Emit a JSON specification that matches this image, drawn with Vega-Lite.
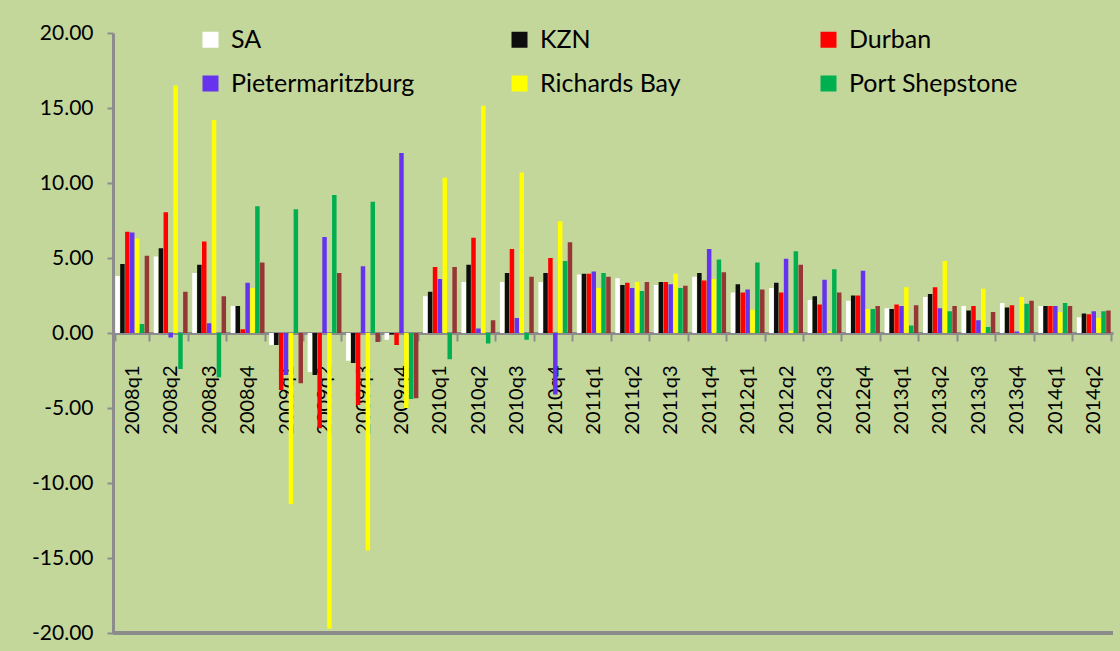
{
  "$schema": "https://vega.github.io/schema/vega-lite/v6.json",
  "width": 1000,
  "height": 600,
  "autosize": {"type": "none"},
  "padding": {"left": 113, "top": 33, "right": 7, "bottom": 18},
  "background": "#C4D79B",
  "config": {"view": {"stroke": null}, "font": "Lato"},
  "data": {"values": [
    {"q":"2008q1","s":"SA","v":3.8},{"q":"2008q1","s":"KZN","v":4.6},{"q":"2008q1","s":"Durban","v":6.75},{"q":"2008q1","s":"Pietermaritzburg","v":6.7},{"q":"2008q1","s":"Richards Bay","v":6.3},{"q":"2008q1","s":"Port Shepstone","v":0.6},{"q":"2008q1","s":"Other","v":5.15},
    {"q":"2008q2","s":"SA","v":5.1},{"q":"2008q2","s":"KZN","v":5.65},{"q":"2008q2","s":"Durban","v":8.05},{"q":"2008q2","s":"Pietermaritzburg","v":-0.3},{"q":"2008q2","s":"Richards Bay","v":16.5},{"q":"2008q2","s":"Port Shepstone","v":-2.4},{"q":"2008q2","s":"Other","v":2.75},
    {"q":"2008q3","s":"SA","v":4.0},{"q":"2008q3","s":"KZN","v":4.55},{"q":"2008q3","s":"Durban","v":6.1},{"q":"2008q3","s":"Pietermaritzburg","v":0.65},{"q":"2008q3","s":"Richards Bay","v":14.2},{"q":"2008q3","s":"Port Shepstone","v":-2.95},{"q":"2008q3","s":"Other","v":2.45},
    {"q":"2008q4","s":"SA","v":1.8},{"q":"2008q4","s":"KZN","v":1.8},{"q":"2008q4","s":"Durban","v":0.25},{"q":"2008q4","s":"Pietermaritzburg","v":3.35},{"q":"2008q4","s":"Richards Bay","v":3.0},{"q":"2008q4","s":"Port Shepstone","v":8.45},{"q":"2008q4","s":"Other","v":4.7},
    {"q":"2009q1","s":"SA","v":-0.8},{"q":"2009q1","s":"KZN","v":-0.8},{"q":"2009q1","s":"Durban","v":-3.8},{"q":"2009q1","s":"Pietermaritzburg","v":-2.8},{"q":"2009q1","s":"Richards Bay","v":-11.4},{"q":"2009q1","s":"Port Shepstone","v":8.25},{"q":"2009q1","s":"Other","v":-3.35},
    {"q":"2009q2","s":"SA","v":-2.6},{"q":"2009q2","s":"KZN","v":-2.8},{"q":"2009q2","s":"Durban","v":-6.35},{"q":"2009q2","s":"Pietermaritzburg","v":6.4},{"q":"2009q2","s":"Richards Bay","v":-19.7},{"q":"2009q2","s":"Port Shepstone","v":9.2},{"q":"2009q2","s":"Other","v":4.0},
    {"q":"2009q3","s":"SA","v":-1.85},{"q":"2009q3","s":"KZN","v":-2.0},{"q":"2009q3","s":"Durban","v":-4.8},{"q":"2009q3","s":"Pietermaritzburg","v":4.45},{"q":"2009q3","s":"Richards Bay","v":-14.5},{"q":"2009q3","s":"Port Shepstone","v":8.75},{"q":"2009q3","s":"Other","v":-0.6},
    {"q":"2009q4","s":"SA","v":-0.45},{"q":"2009q4","s":"KZN","v":-0.1},{"q":"2009q4","s":"Durban","v":-0.8},{"q":"2009q4","s":"Pietermaritzburg","v":12.0},{"q":"2009q4","s":"Richards Bay","v":-5.0},{"q":"2009q4","s":"Port Shepstone","v":-4.4},{"q":"2009q4","s":"Other","v":-4.35},
    {"q":"2010q1","s":"SA","v":2.45},{"q":"2010q1","s":"KZN","v":2.75},{"q":"2010q1","s":"Durban","v":4.4},{"q":"2010q1","s":"Pietermaritzburg","v":3.6},{"q":"2010q1","s":"Richards Bay","v":10.35},{"q":"2010q1","s":"Port Shepstone","v":-1.75},{"q":"2010q1","s":"Other","v":4.4},
    {"q":"2010q2","s":"SA","v":3.4},{"q":"2010q2","s":"KZN","v":4.55},{"q":"2010q2","s":"Durban","v":6.35},{"q":"2010q2","s":"Pietermaritzburg","v":0.3},{"q":"2010q2","s":"Richards Bay","v":15.15},{"q":"2010q2","s":"Port Shepstone","v":-0.7},{"q":"2010q2","s":"Other","v":0.85},
    {"q":"2010q3","s":"SA","v":3.4},{"q":"2010q3","s":"KZN","v":4.0},{"q":"2010q3","s":"Durban","v":5.6},{"q":"2010q3","s":"Pietermaritzburg","v":1.0},{"q":"2010q3","s":"Richards Bay","v":10.7},{"q":"2010q3","s":"Port Shepstone","v":-0.45},{"q":"2010q3","s":"Other","v":3.75},
    {"q":"2010q4","s":"SA","v":3.4},{"q":"2010q4","s":"KZN","v":4.0},{"q":"2010q4","s":"Durban","v":5.0},{"q":"2010q4","s":"Pietermaritzburg","v":-4.1},{"q":"2010q4","s":"Richards Bay","v":7.45},{"q":"2010q4","s":"Port Shepstone","v":4.8},{"q":"2010q4","s":"Other","v":6.05},
    {"q":"2011q1","s":"SA","v":3.9},{"q":"2011q1","s":"KZN","v":3.95},{"q":"2011q1","s":"Durban","v":3.95},{"q":"2011q1","s":"Pietermaritzburg","v":4.1},{"q":"2011q1","s":"Richards Bay","v":3.0},{"q":"2011q1","s":"Port Shepstone","v":4.0},{"q":"2011q1","s":"Other","v":3.75},
    {"q":"2011q2","s":"SA","v":3.65},{"q":"2011q2","s":"KZN","v":3.2},{"q":"2011q2","s":"Durban","v":3.35},{"q":"2011q2","s":"Pietermaritzburg","v":3.0},{"q":"2011q2","s":"Richards Bay","v":3.4},{"q":"2011q2","s":"Port Shepstone","v":2.8},{"q":"2011q2","s":"Other","v":3.4},
    {"q":"2011q3","s":"SA","v":3.2},{"q":"2011q3","s":"KZN","v":3.4},{"q":"2011q3","s":"Durban","v":3.4},{"q":"2011q3","s":"Pietermaritzburg","v":3.25},{"q":"2011q3","s":"Richards Bay","v":3.95},{"q":"2011q3","s":"Port Shepstone","v":3.0},{"q":"2011q3","s":"Other","v":3.15},
    {"q":"2011q4","s":"SA","v":3.75},{"q":"2011q4","s":"KZN","v":4.0},{"q":"2011q4","s":"Durban","v":3.5},{"q":"2011q4","s":"Pietermaritzburg","v":5.6},{"q":"2011q4","s":"Richards Bay","v":3.6},{"q":"2011q4","s":"Port Shepstone","v":4.9},{"q":"2011q4","s":"Other","v":4.05},
    {"q":"2012q1","s":"SA","v":2.7},{"q":"2012q1","s":"KZN","v":3.25},{"q":"2012q1","s":"Durban","v":2.7},{"q":"2012q1","s":"Pietermaritzburg","v":2.9},{"q":"2012q1","s":"Richards Bay","v":1.55},{"q":"2012q1","s":"Port Shepstone","v":4.7},{"q":"2012q1","s":"Other","v":2.9},
    {"q":"2012q2","s":"SA","v":3.0},{"q":"2012q2","s":"KZN","v":3.35},{"q":"2012q2","s":"Durban","v":2.7},{"q":"2012q2","s":"Pietermaritzburg","v":4.95},{"q":"2012q2","s":"Richards Bay","v":0.15},{"q":"2012q2","s":"Port Shepstone","v":5.45},{"q":"2012q2","s":"Other","v":4.55},
    {"q":"2012q3","s":"SA","v":2.2},{"q":"2012q3","s":"KZN","v":2.45},{"q":"2012q3","s":"Durban","v":1.9},{"q":"2012q3","s":"Pietermaritzburg","v":3.55},{"q":"2012q3","s":"Richards Bay","v":0.1},{"q":"2012q3","s":"Port Shepstone","v":4.25},{"q":"2012q3","s":"Other","v":2.7},
    {"q":"2012q4","s":"SA","v":2.15},{"q":"2012q4","s":"KZN","v":2.5},{"q":"2012q4","s":"Durban","v":2.5},{"q":"2012q4","s":"Pietermaritzburg","v":4.15},{"q":"2012q4","s":"Richards Bay","v":1.6},{"q":"2012q4","s":"Port Shepstone","v":1.6},{"q":"2012q4","s":"Other","v":1.8},
    {"q":"2013q1","s":"SA","v":1.65},{"q":"2013q1","s":"KZN","v":1.6},{"q":"2013q1","s":"Durban","v":1.9},{"q":"2013q1","s":"Pietermaritzburg","v":1.8},{"q":"2013q1","s":"Richards Bay","v":3.05},{"q":"2013q1","s":"Port Shepstone","v":0.5},{"q":"2013q1","s":"Other","v":1.85},
    {"q":"2013q2","s":"SA","v":2.4},{"q":"2013q2","s":"KZN","v":2.6},{"q":"2013q2","s":"Durban","v":3.05},{"q":"2013q2","s":"Pietermaritzburg","v":1.65},{"q":"2013q2","s":"Richards Bay","v":4.8},{"q":"2013q2","s":"Port Shepstone","v":1.45},{"q":"2013q2","s":"Other","v":1.8},
    {"q":"2013q3","s":"SA","v":1.8},{"q":"2013q3","s":"KZN","v":1.5},{"q":"2013q3","s":"Durban","v":1.8},{"q":"2013q3","s":"Pietermaritzburg","v":0.85},{"q":"2013q3","s":"Richards Bay","v":2.95},{"q":"2013q3","s":"Port Shepstone","v":0.4},{"q":"2013q3","s":"Other","v":1.4},
    {"q":"2013q4","s":"SA","v":2.0},{"q":"2013q4","s":"KZN","v":1.7},{"q":"2013q4","s":"Durban","v":1.85},{"q":"2013q4","s":"Pietermaritzburg","v":0.1},{"q":"2013q4","s":"Richards Bay","v":2.4},{"q":"2013q4","s":"Port Shepstone","v":1.95},{"q":"2013q4","s":"Other","v":2.15},
    {"q":"2014q1","s":"SA","v":1.8},{"q":"2014q1","s":"KZN","v":1.8},{"q":"2014q1","s":"Durban","v":1.8},{"q":"2014q1","s":"Pietermaritzburg","v":1.8},{"q":"2014q1","s":"Richards Bay","v":1.4},{"q":"2014q1","s":"Port Shepstone","v":2.0},{"q":"2014q1","s":"Other","v":1.8},
    {"q":"2014q2","s":"SA","v":1.05},{"q":"2014q2","s":"KZN","v":1.3},{"q":"2014q2","s":"Durban","v":1.25},{"q":"2014q2","s":"Pietermaritzburg","v":1.45},{"q":"2014q2","s":"Richards Bay","v":1.0},{"q":"2014q2","s":"Port Shepstone","v":1.45},{"q":"2014q2","s":"Other","v":1.5}
  ]},
  "layer": [
    {
      "mark": {"type": "bar"},
      "encoding": {
        "x": {
          "field": "q", "type": "nominal", "sort": null,
          "scale": {"paddingInner": 0.12, "paddingOuter": 0.06},
          "axis": {
            "title": null, "orient": "bottom", "offset": -300,
            "domainColor": "#8C8C8C", "domainWidth": 3,
            "tickColor": "#8C8C8C", "tickWidth": 2, "tickSize": 8, "tickBand": "extent",
            "labelAngle": 270, "labelFontSize": 20, "labelColor": "#000000",
            "labelPadding": 24, "labelFont": "Lato", "labelFontWeight": "normal"
          }
        },
        "xOffset": {
          "field": "s", "type": "nominal",
          "sort": ["SA","KZN","Durban","Pietermaritzburg","Richards Bay","Port Shepstone","Other"],
          "scale": {"paddingInner": 0.08}
        },
        "y": {
          "field": "v", "type": "quantitative",
          "scale": {"domain": [-20, 20], "nice": false},
          "axis": {
            "title": null, "values": [-20,-15,-10,-5,0,5,10,15,20], "format": ".2f",
            "labelExpr": "replace(datum.label, '\u2212', '-')",
            "grid": false, "domainColor": "#8C8C8C", "domainWidth": 3,
            "tickColor": "#8C8C8C", "tickWidth": 2, "tickSize": 6,
            "labelFontSize": 21, "labelColor": "#000000", "labelPadding": 14, "labelFont": "Lato", "labelFontWeight": "normal"
          }
        },
        "color": {
          "field": "s", "type": "nominal",
          "scale": {
            "domain": ["SA","KZN","Durban","Pietermaritzburg","Richards Bay","Port Shepstone","Other"],
            "range": ["#FFFFFF","#0D0D0D","#FF0000","#6633EE","#FFFF00","#00B050","#953735"]
          },
          "legend": {
            "title": null,
            "values": ["SA","KZN","Durban","Pietermaritzburg","Richards Bay","Port Shepstone"],
            "orient": "none", "legendX": 85, "legendY": -6,
            "direction": "horizontal", "columns": 3, "gridAlign": "all",
            "columnPadding": 92, "rowPadding": 18,
            "symbolType": "square", "symbolSize": 256, "symbolStrokeWidth": 0,
            "labelFontSize": 25, "labelFont": "Lato", "labelColor": "#000000", "labelFontWeight": "normal",
            "labelOffset": 8, "labelLimit": 400
          }
        }
      }
    },
    {
      "mark": {"type": "rule", "color": "#8C8C8C", "strokeWidth": 3},
      "encoding": {"y": {"datum": -20}}
    }
  ]
}
